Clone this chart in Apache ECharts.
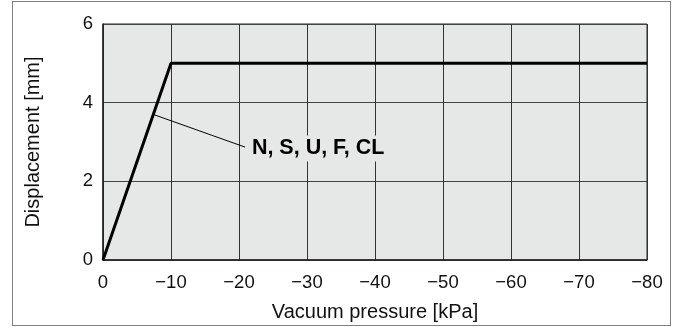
<!DOCTYPE html>
<html>
<head>
<meta charset="utf-8">
<script src="https://cdn.jsdelivr.net/npm/echarts@6/dist/echarts.min.js"></script>
<style>
  html, body { margin: 0; padding: 0; background: #fff; }
  #frame { position: absolute; left: 12px; top: 1px; width: 657px; height: 323px; border: 1.5px solid #7f7f7f; }
  #chart { position: absolute; left: 0; top: 0; width: 673px; height: 327px; }
</style>
</head>
<body>
<div id="frame"></div>
<div id="chart"></div>
<script>
// Data
const pressure = [0, -10, -80];          // kPa
const displacement = [0, 5, 5];          // mm
const xTicks = [0, -10, -20, -30, -40, -50, -60, -70, -80];
const yTicks = [0, 2, 4, 6];
const seriesLabel = 'N, S, U, F, CL';
const leaderFrom = [-7.4, 3.7];
const leaderTo = [-20.9, 2.87];

const FONT = '"Liberation Sans", Arial, Helvetica, sans-serif';
const chart = echarts.init(document.getElementById('chart'), null, { renderer: 'canvas' });

const option = {
  animation: false,
  backgroundColor: 'transparent',
  grid: {
    left: 103, right: 26, top: 24, bottom: 65,
    show: true, backgroundColor: '#e6e7e7', borderColor: '#222', borderWidth: 1
  },
  xAxis: {
    type: 'value',
    min: xTicks[xTicks.length - 1], max: xTicks[0], interval: 10,
    inverse: true,
    name: 'Vacuum pressure [kPa]',
    nameLocation: 'middle', nameGap: 42,
    nameTextStyle: { fontFamily: FONT, fontSize: 20, color: '#111' },
    axisLine: { show: true, lineStyle: { color: '#222', width: 1.5 } },
    axisTick: { show: false },
    axisLabel: {
      fontFamily: FONT, fontSize: 18.5, color: '#111', margin: 13,
      formatter: v => v === 0 ? '0' : '\u2212' + Math.abs(v)
    },
    splitLine: { show: true, lineStyle: { color: '#333', width: 1 } }
  },
  yAxis: {
    type: 'value',
    min: yTicks[0], max: yTicks[yTicks.length - 1], interval: 2,
    name: 'Displacement [mm]',
    nameLocation: 'middle', nameGap: 60, nameRotate: 90,
    nameTextStyle: { fontFamily: FONT, fontSize: 20, color: '#111' },
    axisLine: { show: true, lineStyle: { color: '#222', width: 1.5 } },
    axisTick: { show: false },
    axisLabel: { fontFamily: FONT, fontSize: 18.5, color: '#111', margin: 10 },
    splitLine: { show: true, lineStyle: { color: '#444', width: 1 } }
  },
  series: [{
    type: 'line',
    data: pressure.map((p, i) => [p, displacement[i]]),
    symbol: 'none',
    lineStyle: { color: '#000', width: 3 },
    z: 5,
    markLine: {
      silent: true,
      symbol: ['none', 'none'],
      lineStyle: { color: '#000', width: 1, type: 'solid' },
      label: {
        show: true, position: 'end', distance: 4,
        formatter: seriesLabel,
        fontFamily: FONT, fontSize: 21.5, fontWeight: 'bold', color: '#000',
        backgroundColor: '#e6e7e7', padding: [2, 3]
      },
      data: [[{ coord: leaderFrom }, { coord: leaderTo }]]
    }
  }]
};
chart.setOption(option);
</script>
</body>
</html>
